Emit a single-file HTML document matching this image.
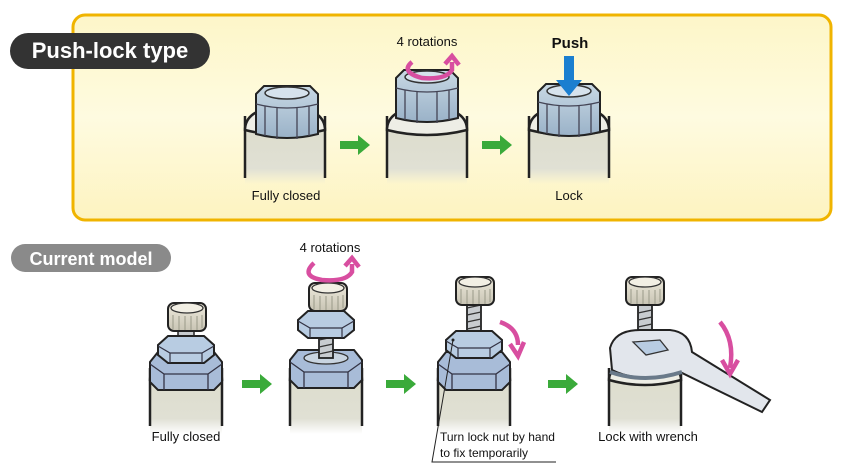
<!DOCTYPE html>
<html><head><meta charset="utf-8"><style>
html,body{margin:0;padding:0;background:#fff}
svg{display:block}
text{font-family:"Liberation Sans",sans-serif}
</style></head><body>
<svg width="843" height="467" viewBox="0 0 843 467" xmlns="http://www.w3.org/2000/svg">
<defs>
<linearGradient id="bg" x1="0" y1="0" x2="0" y2="1"><stop offset="0" stop-color="#fdf6c8"/><stop offset="0.5" stop-color="#fefbe0"/><stop offset="1" stop-color="#fdf3c0"/></linearGradient>
<linearGradient id="body" x1="0" y1="0" x2="0" y2="1"><stop offset="0" stop-color="#dcdccc"/><stop offset="0.75" stop-color="#e0e0d4"/><stop offset="1" stop-color="#e2e2d8" stop-opacity="0"/></linearGradient>
<linearGradient id="cap" x1="0" y1="0" x2="0" y2="1"><stop offset="0" stop-color="#c8d8e4"/><stop offset="1" stop-color="#9ab2c8"/></linearGradient>
<linearGradient id="knob" x1="0" y1="0" x2="0" y2="1"><stop offset="0" stop-color="#eeeadc"/><stop offset="1" stop-color="#c8c4b4"/></linearGradient>
<g id="bodyT">
<rect x="-40" y="0" width="80" height="62" fill="url(#body)"/>
<path d="M-40,-6 L-40,56 M40,-6 L40,56" stroke="#222" stroke-width="2.5"/>
<path d="M-40,8 Q-40,-14 0,-16 Q40,-14 40,8 Q0,18 -40,8Z" fill="#eeeee6" stroke="#222" stroke-width="2.5"/>
</g>
<g id="bodyB">
<rect x="-36" y="0" width="72" height="62" fill="url(#body)"/>
<path d="M-36,-4 L-36,54 M36,-4 L36,54" stroke="#222" stroke-width="2.5"/>
<path d="M-36,8 Q-36,-10 0,-12 Q36,-10 36,8 Q0,18 -36,8Z" fill="#eeeee6" stroke="#222" stroke-width="2.5"/>
</g>
<g id="pcap">
<path d="M-31,-40 L-23,-48 L23,-48 L31,-40 L31,0 Q0,8 -31,0Z" fill="url(#cap)" stroke="#222" stroke-width="2"/>
<ellipse cx="0" cy="-41" rx="22" ry="6" fill="#d6e2ec" stroke="#333" stroke-width="1.5"/>
<path d="M-22,-28 L-22,2 M-10,-26 L-10,5 M10,-26 L10,5 M22,-28 L22,2 M-31,-30 Q0,-22 31,-30" stroke="#445" stroke-width="1.3" fill="none"/>
</g>
<g id="knobS">
<rect x="-19" y="0" width="38" height="28" rx="6" fill="url(#knob)" stroke="#222" stroke-width="2"/>
<ellipse cx="0" cy="5" rx="16" ry="5" fill="#f2efe4" stroke="#333" stroke-width="1.3"/>
<path d="M-14,12 L-14,26 M-8,13 L-8,27 M-2,13 L-2,27 M4,13 L4,27 M10,13 L10,27 M15,12 L15,25" stroke="#998" stroke-width="1"/>
</g>
<g id="bigNut">
<path d="M-36,0 L-28,-10 L28,-10 L36,0 L36,20 L28,28 L-28,28 L-36,20Z" fill="#a8bcd8" stroke="#222" stroke-width="2"/>
<path d="M-36,2 L-22,12 L22,12 L36,2 M-22,12 L-22,28 M22,12 L22,28" stroke="#334" stroke-width="1.3" fill="none"/>
</g>
<g id="smNut">
<path d="M-28,0 L-18,-9 L18,-9 L28,0 L28,10 L18,18 L-18,18 L-28,10Z" fill="#b8cce2" stroke="#222" stroke-width="2"/>
<path d="M-28,1 L-16,8 L16,8 L28,1 M-16,8 L-16,18 M16,8 L16,18" stroke="#334" stroke-width="1.2" fill="none"/>
</g>
<g id="garrow"><path d="M0,-4 L18,-4 L18,-10 L30,0 L18,10 L18,4 L0,4Z" fill="#3aaa3a"/></g>
<g id="screw"><rect x="-7" y="0" width="14" height="40" fill="#c8ccd0" stroke="#222" stroke-width="1.8"/><path d="M-7,8 L7,5 M-7,15 L7,12 M-7,22 L7,19 M-7,29 L7,26 M-7,36 L7,33" stroke="#333" stroke-width="1.3"/></g>
</defs>

<rect x="73" y="15" width="758" height="205" rx="12" fill="url(#bg)" stroke="#f0b400" stroke-width="3"/>
<rect x="10" y="33" width="200" height="36" rx="18" fill="#333"/>
<text x="110" y="58" font-size="22" font-weight="bold" fill="#fff" text-anchor="middle">Push-lock type</text>

<use href="#bodyT" x="285" y="122"/>
<use href="#pcap" x="287" y="134"/>
<use href="#bodyT" x="427" y="122"/>
<use href="#pcap" x="427" y="118"/>
<use href="#bodyT" x="569" y="122"/>
<use href="#pcap" x="569" y="132"/>

<use href="#garrow" x="340" y="145"/>
<use href="#garrow" x="482" y="145"/>

<text x="286" y="200" font-size="13" text-anchor="middle" fill="#111">Fully closed</text>
<text x="569" y="200" font-size="13" text-anchor="middle" fill="#111">Lock</text>
<text x="427" y="46" font-size="13" text-anchor="middle" fill="#111">4 rotations</text>
<text x="570" y="48" font-size="15" font-weight="bold" text-anchor="middle" fill="#111">Push</text>
<path d="M564,56 L574,56 L574,80 L582,80 L569,96 L556,80 L564,80Z" fill="#1b7fd0"/>
<path d="M412,62 Q400,72 422,78 Q446,80 452,70 L452,62 M445,64 L452,56 L459,65" stroke="#d84ea0" stroke-width="4.5" fill="none"/>

<rect x="11" y="244" width="160" height="28" rx="14" fill="#8a8a8a"/>
<text x="91" y="265" font-size="18" font-weight="bold" fill="#fff" text-anchor="middle">Current model</text>

<use href="#bodyB" x="186" y="372"/>
<use href="#bigNut" x="186" y="362"/>
<rect x="178" y="330" width="16" height="12" fill="#c8ccd0" stroke="#222" stroke-width="1.5"/>
<use href="#smNut" x="186" y="345"/>
<use href="#knobS" x="187" y="303"/>

<use href="#bodyB" x="326" y="372"/>
<use href="#bigNut" x="326" y="360"/>
<ellipse cx="326" cy="358" rx="22" ry="6" fill="#c8d4e0" stroke="#333" stroke-width="1.3"/>
<use href="#screw" x="326" y="318"/>
<use href="#smNut" x="326" y="320"/>
<use href="#knobS" x="328" y="283"/>
<text x="330" y="252" font-size="13" text-anchor="middle" fill="#111">4 rotations</text>
<path d="M314,263 Q300,276 322,280 Q346,282 352,272 L352,264 M345,266 L352,258 L359,267" stroke="#d84ea0" stroke-width="4.5" fill="none"/>

<use href="#bodyB" x="474" y="372"/>
<use href="#bigNut" x="474" y="362"/>
<use href="#screw" x="474" y="300"/>
<use href="#smNut" x="474" y="340"/>
<use href="#knobS" x="475" y="277"/>
<path d="M500,322 Q518,328 518,345 M510,344 L518,356 L524,342" stroke="#d84ea0" stroke-width="4.5" fill="none"/>

<use href="#bodyB" x="645" y="372"/>
<use href="#screw" x="645" y="305"/>
<use href="#knobS" x="645" y="277"/>
<path d="M610,348 Q615,330 640,330 L670,330 Q690,332 692,352 L770,400 L762,412 L680,372 Q640,384 612,370Z" fill="#e2e6ec" stroke="#222" stroke-width="2"/>
<path d="M633,342 L660,340 L668,350 L646,355Z" fill="#b8cce2" stroke="#333" stroke-width="1.3"/>
<path d="M610,372 Q645,384 682,372" stroke="#6a7a8a" stroke-width="4" fill="none"/>
<path d="M720,322 Q735,340 730,368 M722,360 L730,374 L738,360" stroke="#d84ea0" stroke-width="4.5" fill="none"/>

<use href="#garrow" x="242" y="384"/>
<use href="#garrow" x="386" y="384"/>
<use href="#garrow" x="548" y="384"/>

<text x="186" y="441" font-size="13" text-anchor="middle" fill="#111">Fully closed</text>
<text x="648" y="441" font-size="13" text-anchor="middle" fill="#111">Lock with wrench</text>
<text x="440" y="441" font-size="12" fill="#111">Turn lock nut by hand</text>
<text x="440" y="457" font-size="12" fill="#111">to fix temporarily</text>
<path d="M453,340 L432,462 L556,462" stroke="#222" stroke-width="1" fill="none"/>
<circle cx="453" cy="340" r="1.5" fill="#222"/>
</svg>
</body></html>
